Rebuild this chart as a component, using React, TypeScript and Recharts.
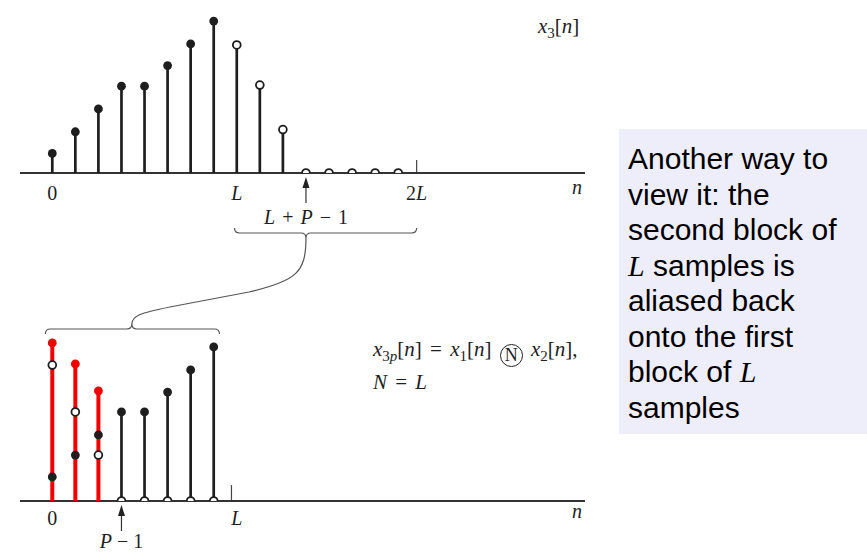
import React from 'react';
import { ComposedChart, ReferenceLine, Scatter, XAxis, YAxis } from 'recharts';

const SERIF = '"Liberation Serif", "Times New Roman", serif';
const SANS = '"Liberation Sans", Arial, sans-serif';
const INK = '#1e1e1e';
const RED = '#f20000';
const MATH_SIZE = 20;

// shared n-axis for both stem plots
const X_DOMAIN: [number, number] = [-1.4, 23.1];
const Y_DOMAIN: [number, number] = [0, 7.5];
const CHART_W = 600;
const PLOT_LEFT = 20;
const PLOT_W = 565;

const xPx = (n: number) =>
  PLOT_LEFT + ((n - X_DOMAIN[0]) / (X_DOMAIN[1] - X_DOMAIN[0])) * PLOT_W;

// x3[n] : linear convolution, L = 8, P = 4
const topHeadN = [0, 1, 2, 3, 4, 5, 6, 7];
const topHeadV = [0.9, 1.9, 2.95, 4, 4, 4.95, 5.95, 7];
const topTailN = [8, 9, 10];
const topTailV = [5.9, 4.05, 2];
const topZeroN = [11, 12, 13, 14, 15];
const topTickN = [0, 8, 15.8];
const topTickLabel = ['0', 'L', '2L'];

// x3p[n] : N = L circular convolution
const botRedN = [0, 1, 2];
const botRedV = [7.15, 6.2, 4.98];
const botHeadV = [1.09, 2.08, 2.99];
const botTailV = [6.15, 4.03, 2.08];
const botBlackN = [3, 4, 5, 6, 7];
const botBlackV = [4.03, 4.03, 4.93, 5.93, 6.97];
const botTickN = [0, 8];
const botTickLabel = ['0', 'L'];

const pts = (ns: number[], vs: number[]) => ns.map((n, i) => ({ n, v: vs[i] }));
const zeros = (ns: number[]) => ns.map((n) => ({ n, v: 0 }));

// geometry of the two panels
const TOP = { top: 0, padTop: 10.25, plotH: 162.75, axisH: 45 };
const BOT = { top: 300, padTop: 35.25, plotH: 165.75, axisH: 54 };

function stemShape(base: number, color: string, width: number, r: number) {
  return (p: any) => (
    <g>
      <line x1={p.cx} x2={p.cx} y1={base} y2={p.cy} stroke={color} strokeWidth={width} />
      <circle cx={p.cx} cy={p.cy} r={r} fill={color} />
    </g>
  );
}

const dotShape = (p: any) => <circle cx={p.cx} cy={p.cy} r={4.4} fill={INK} />;
const ringShape = (p: any) => (
  <circle cx={p.cx} cy={p.cy} r={3.9} fill="#fff" stroke={INK} strokeWidth={1.8} />
);

function mathText(s: string) {
  return s.split('').map((ch, i) => (
    <tspan key={i} fontStyle={/[A-Za-z]/.test(ch) ? 'italic' : 'normal'}>
      {ch}
    </tspan>
  ));
}

function mathTick(ticks: number[], labels: string[], dy: number) {
  return (p: any) => {
    const i = ticks.indexOf(p.payload.value);
    return (
      <text x={p.x} y={p.y + dy} textAnchor="middle" fontFamily={SERIF} fontSize={MATH_SIZE} fill={INK}>
        {mathText(labels[i] ?? '')}
      </text>
    );
  };
}

function StemPanel({
  geo,
  ticks,
  labels,
  labelDy,
  children,
}: {
  geo: typeof TOP;
  ticks: number[];
  labels: string[];
  labelDy: number;
  children: React.ReactNode;
}) {
  return (
    <div style={{ position: 'absolute', left: 0, top: geo.top }}>
      <ComposedChart
        width={CHART_W}
        height={geo.padTop + geo.plotH + geo.axisH}
        margin={{ top: geo.padTop, right: CHART_W - PLOT_LEFT - PLOT_W, bottom: 0, left: PLOT_LEFT }}
      >
        <XAxis
          type="number"
          dataKey="n"
          domain={X_DOMAIN}
          allowDataOverflow
          ticks={ticks}
          interval={0}
          height={geo.axisH}
          tickLine={false}
          tickSize={0}
          tickMargin={0}
          axisLine={{ stroke: '#333', strokeWidth: 2 }}
          tick={mathTick(ticks, labels, labelDy)}
        />
        <YAxis type="number" dataKey="v" domain={Y_DOMAIN} allowDataOverflow hide />
        {children}
      </ComposedChart>
    </div>
  );
}

function bracePath(x1: number, x2: number, xm: number, y: number, d: number) {
  const k = 5;
  return `M${x1},${y - d * k} Q${x1},${y} ${x1 + k},${y} L${xm - k},${y} Q${xm},${y} ${xm},${y + d * k} Q${xm},${y} ${xm + k},${y} L${x2 - k},${y} Q${x2},${y} ${x2},${y - d * k}`;
}

function UpArrow({ x, y1, y2 }: { x: number; y1: number; y2: number }) {
  return (
    <g>
      <line x1={x} x2={x} y1={y1} y2={y2 + 8} stroke="#333" strokeWidth={1.2} />
      <path d={`M${x},${y2} L${x - 3.5},${y2 + 11} L${x + 3.5},${y2 + 11} Z`} fill="#222" />
    </g>
  );
}

const sub: React.CSSProperties = { fontSize: 15, position: 'relative', top: 5 };

export default function App() {
  const topBase = TOP.padTop + TOP.plotH;
  const botBase = BOT.padTop + BOT.plotH;
  const bTop = xPx(11);
  const bBot = xPx(3.45);

  return (
    <div style={{ position: 'absolute', left: 0, top: 0, width: 867, height: 555, background: '#fff', overflow: 'hidden' }}>
      <StemPanel geo={TOP} ticks={topTickN} labels={topTickLabel} labelDy={27}>
        <ReferenceLine segment={[{ x: 15.8, y: 0 }, { x: 15.8, y: 0.6 }]} stroke="#444" strokeWidth={1.2} />
        <Scatter data={pts(topHeadN, topHeadV)} shape={stemShape(topBase, INK, 2.7, 4.4)} isAnimationActive={false} />
        <Scatter data={pts(topTailN, topTailV)} shape={stemShape(topBase, INK, 2.7, 0)} isAnimationActive={false} />
        <Scatter data={pts(topTailN, topTailV)} shape={ringShape} isAnimationActive={false} />
        <Scatter data={zeros(topZeroN)} shape={ringShape} isAnimationActive={false} />
      </StemPanel>

      <StemPanel geo={BOT} ticks={botTickN} labels={botTickLabel} labelDy={24}>
        <ReferenceLine segment={[{ x: 7.77, y: 0 }, { x: 7.77, y: 0.72 }]} stroke="#444" strokeWidth={1.2} />
        <Scatter data={pts(botRedN, botRedV)} shape={stemShape(botBase, RED, 4, 4.4)} isAnimationActive={false} />
        <Scatter data={pts(botRedN, botHeadV)} shape={dotShape} isAnimationActive={false} />
        <Scatter data={pts(botRedN, botTailV)} shape={ringShape} isAnimationActive={false} />
        <Scatter data={pts(botBlackN, botBlackV)} shape={stemShape(botBase, INK, 2.7, 4.4)} isAnimationActive={false} />
        <Scatter data={zeros(botBlackN)} shape={ringShape} isAnimationActive={false} />
      </StemPanel>

      <svg width={867} height={555} style={{ position: 'absolute', left: 0, top: 0, pointerEvents: 'none' }}>
        <g fontFamily={SERIF} fontSize={MATH_SIZE} fill={INK}>
          <text x={538} y={33} fontSize={21}>
            <tspan fontStyle="italic">x</tspan>
            <tspan dy={5} fontSize={15}>3</tspan>
            <tspan dy={-5}>[</tspan>
            <tspan fontStyle="italic">n</tspan>
            <tspan>]</tspan>
          </text>
          <text x={577} y={194} textAnchor="middle" fontStyle="italic">n</text>
          <text x={577} y={518} textAnchor="middle" fontStyle="italic">n</text>
          <text x={xPx(11)} y={224} textAnchor="middle" wordSpacing={2}>
            <tspan fontStyle="italic">L</tspan> + <tspan fontStyle="italic">P</tspan> − 1
          </text>
          <text x={xPx(3)} y={548} textAnchor="middle">
            <tspan fontStyle="italic">P</tspan> − 1
          </text>
        </g>

        <UpArrow x={xPx(11)} y1={203} y2={177} />
        <UpArrow x={xPx(3)} y1={531} y2={505} />

        <g fill="none" stroke="#555" strokeWidth={1.2}>
          <path d={bracePath(xPx(7.9), xPx(15.8), bTop, 233, 1)} />
          <path d={bracePath(xPx(-0.3), xPx(7.25), bBot, 329, -1)} />
          <path
            d={`M${bTop},238 C${bTop},272 ${bTop - 9},281 ${bTop - 57},292 L${bBot + 38},307 C${bBot + 8},313 ${bBot},316 ${bBot},324`}
          />
        </g>
      </svg>

      <div
        style={{
          position: 'absolute',
          left: 373,
          top: 334,
          fontFamily: SERIF,
          fontSize: 21,
          lineHeight: '31px',
          color: INK,
          whiteSpace: 'nowrap',
          wordSpacing: 3,
        }}
      >
        <div>
          <i>x</i>
          <span style={sub}>
            3<i>p</i>
          </span>
          [<i>n</i>] = <i>x</i>
          <span style={sub}>1</span>[<i>n</i>]{' '}
          <span
            style={{
              display: 'inline-block',
              width: 21,
              height: 21,
              lineHeight: '21px',
              border: '1.8px solid #222',
              borderRadius: '50%',
              textAlign: 'center',
              verticalAlign: '-5px',
              fontSize: 18,
              wordSpacing: 0,
            }}
          >
            N
          </span>{' '}
          <i>x</i>
          <span style={sub}>2</span>[<i>n</i>],
        </div>
        <div>
          <i>N</i> = <i>L</i>
        </div>
      </div>

      <div
        style={{
          position: 'absolute',
          left: 619,
          top: 129,
          width: 248,
          height: 305,
          background: '#eeeefb',
        }}
      >
        <div
          style={{
            position: 'absolute',
            left: 9,
            top: 12,
            fontFamily: SANS,
            fontSize: 30,
            lineHeight: '35.5px',
            color: '#000',
            whiteSpace: 'nowrap',
          }}
        >
          <div>Another way to</div>
          <div>view it: the</div>
          <div>second block of</div>
          <div>
            <i style={{ fontFamily: SERIF }}>L</i> samples is
          </div>
          <div>aliased back</div>
          <div>onto the first</div>
          <div>
            block of <i style={{ fontFamily: SERIF }}>L</i>
          </div>
          <div>samples</div>
        </div>
      </div>
    </div>
  );
}
